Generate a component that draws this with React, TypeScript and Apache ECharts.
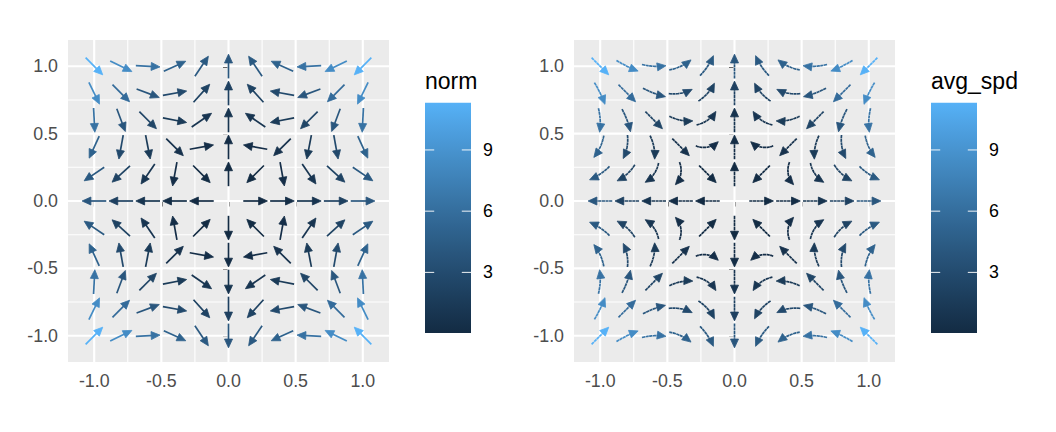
import React, { useEffect, useRef } from "react";
import * as echarts from "echarts";

// grid positions (columns = x, rows = y from top to bottom)
const xs = [-1, -0.8, -0.6, -0.4, -0.2, 0, 0.2, 0.4, 0.6, 0.8, 1];
const ys = [1, 0.8, 0.6, 0.4, 0.2, 0, -0.2, -0.4, -0.6, -0.8, -1];

// x component of the vector at each grid point
const uRows = [
  [8, 7.552, 6.336, 4.544, 2.368, 0, -2.368, -4.544, -6.336, -7.552, -8],
  [3.68, 4.096, 3.744, 2.816, 1.504, 0, -1.504, -2.816, -3.744, -4.096, -3.68],
  [0.32, 1.408, 1.728, 1.472, 0.832, 0, -0.832, -1.472, -1.728, -1.408, -0.32],
  [-2.08, -0.512, 0.288, 0.512, 0.352, 0, -0.352, -0.512, -0.288, 0.512, 2.08],
  [-3.52, -1.664, -0.576, -0.064, 0.064, 0, -0.064, 0.064, 0.576, 1.664, 3.52],
  [-4, -2.048, -0.864, -0.256, -0.032, 0, 0.032, 0.256, 0.864, 2.048, 4],
  [-3.52, -1.664, -0.576, -0.064, 0.064, 0, -0.064, 0.064, 0.576, 1.664, 3.52],
  [-2.08, -0.512, 0.288, 0.512, 0.352, 0, -0.352, -0.512, -0.288, 0.512, 2.08],
  [0.32, 1.408, 1.728, 1.472, 0.832, 0, -0.832, -1.472, -1.728, -1.408, -0.32],
  [3.68, 4.096, 3.744, 2.816, 1.504, 0, -1.504, -2.816, -3.744, -4.096, -3.68],
  [8, 7.552, 6.336, 4.544, 2.368, 0, -2.368, -4.544, -6.336, -7.552, -8],
];

// y component of the vector at each grid point
const vRows = [
  [-8, -3.68, -0.32, 2.08, 3.52, 4, 3.52, 2.08, -0.32, -3.68, -8],
  [-7.552, -4.096, -1.408, 0.512, 1.664, 2.048, 1.664, 0.512, -1.408, -4.096, -7.552],
  [-6.336, -3.744, -1.728, -0.288, 0.576, 0.864, 0.576, -0.288, -1.728, -3.744, -6.336],
  [-4.544, -2.816, -1.472, -0.512, 0.064, 0.256, 0.064, -0.512, -1.472, -2.816, -4.544],
  [-2.368, -1.504, -0.832, -0.352, -0.064, 0.032, -0.064, -0.352, -0.832, -1.504, -2.368],
  [0, 0, 0, 0, 0, 0, 0, 0, 0, 0, 0],
  [2.368, 1.504, 0.832, 0.352, 0.064, -0.032, 0.064, 0.352, 0.832, 1.504, 2.368],
  [4.544, 2.816, 1.472, 0.512, -0.064, -0.256, -0.064, 0.512, 1.472, 2.816, 4.544],
  [6.336, 3.744, 1.728, 0.288, -0.576, -0.864, -0.576, 0.288, 1.728, 3.744, 6.336],
  [7.552, 4.096, 1.408, -0.512, -1.664, -2.048, -1.664, -0.512, 1.408, 4.096, 7.552],
  [8, 3.68, 0.32, -2.08, -3.52, -4, -3.52, -2.08, 0.32, 3.68, 8],
];

// total turning (degrees, counter-clockwise positive) of each streamline
const bendRows = [
  [0, 10.3, 22.0, 28.7, 21.5, 0, -21.5, -28.7, -22.0, -10.3, 0],
  [-10.3, 0, 16.6, 33.2, 31.2, 0, -31.2, -33.2, -16.6, 0, 10.3],
  [-22.0, -16.6, 0, 30.5, 47.0, 0, -47.0, -30.5, 0, 16.6, 22.0],
  [-28.7, -33.2, -30.5, 0, 66.4, 0, -66.4, 0, 30.5, 33.2, 28.7],
  [-21.5, -31.2, -47.0, -66.4, 0, 0, 0, 66.4, 47.0, 31.2, 21.5],
  [0, 0, 0, 0, 0, 0, 0, 0, 0, 0, 0],
  [21.5, 31.2, 47.0, 66.4, 0, 0, 0, -66.4, -47.0, -31.2, -21.5],
  [28.7, 33.2, 30.5, 0, -66.4, 0, 66.4, 0, -30.5, -33.2, -28.7],
  [22.0, 16.6, 0, -30.5, -47.0, 0, 47.0, 30.5, 0, -16.6, -22.0],
  [10.3, 0, -16.6, -33.2, -31.2, 0, 31.2, 33.2, 16.6, 0, -10.3],
  [0, -10.3, -22.0, -28.7, -21.5, 0, 21.5, 28.7, 22.0, 10.3, 0],
];

const axisTicks = [-1, -0.5, 0, 0.5, 1];
const majorBreaks = [-1, -0.5, 0, 0.5, 1];
const minorBreaks = [-0.75, -0.25, 0.25, 0.75];
const legendBreaks = [3, 6, 9];
const legendTitles = ["norm", "avg_spd"];

// ---------- styling helpers ----------
const FONT = "'Liberation Sans', Arial, Helvetica, sans-serif";
const LOW = [0x13, 0x2b, 0x43];
const HIGH = [0x56, 0xb1, 0xf7];
const SEG = 0.18; // arrow / stream length in data units
const HEAD_LEN = 8.8;
const HEAD_HALF = 4.0;

function toLin(c: number) {
  c /= 255;
  return c <= 0.04045 ? c / 12.92 : Math.pow((c + 0.055) / 1.055, 2.4);
}
function fromLin(c: number) {
  const v = c <= 0.0031308 ? 12.92 * c : 1.055 * Math.pow(c, 1 / 2.4) - 0.055;
  return Math.round(Math.max(0, Math.min(1, v)) * 255);
}
function rgb2lab(rgb: number[]) {
  const R = toLin(rgb[0]), G = toLin(rgb[1]), B = toLin(rgb[2]);
  const X = (0.4124 * R + 0.3576 * G + 0.1805 * B) / 0.95047;
  const Y = 0.2126 * R + 0.7152 * G + 0.0722 * B;
  const Z = (0.0193 * R + 0.1192 * G + 0.9505 * B) / 1.08883;
  const f = (t: number) => (t > 0.008856 ? Math.cbrt(t) : 7.787 * t + 16 / 116);
  const fx = f(X), fy = f(Y), fz = f(Z);
  return [116 * fy - 16, 500 * (fx - fy), 200 * (fy - fz)];
}
function lab2rgb(lab: number[]) {
  const fy = (lab[0] + 16) / 116;
  const fx = fy + lab[1] / 500;
  const fz = fy - lab[2] / 200;
  const inv = (t: number) => (t * t * t > 0.008856 ? t * t * t : (t - 16 / 116) / 7.787);
  const X = inv(fx) * 0.95047, Y = inv(fy), Z = inv(fz) * 1.08883;
  const R = 3.2406 * X - 1.5372 * Y - 0.4986 * Z;
  const G = -0.9689 * X + 1.8758 * Y + 0.0415 * Z;
  const B = 0.0557 * X - 0.204 * Y + 1.057 * Z;
  return `rgb(${fromLin(R)},${fromLin(G)},${fromLin(B)})`;
}
const labLow = rgb2lab(LOW);
const labHigh = rgb2lab(HIGH);
const ramp: string[] = [];
for (let i = 0; i <= 20; i++) {
  const t = i / 20;
  ramp.push(lab2rgb([0, 1, 2].map((k) => labLow[k] + (labHigh[k] - labLow[k]) * t)));
}

// ---------- data table built from the arrays ----------
const points: number[][] = [];
ys.forEach((y, r) =>
  xs.forEach((x, c) => {
    const u = uRows[r][c];
    const v = vRows[r][c];
    const norm = Math.hypot(u, v);
    if (norm === 0) return;
    points.push([x, y, u, v, norm, bendRows[r][c]]);
  })
);
const normMin = Math.min(...points.map((p) => p[4]));
const normMax = Math.max(...points.map((p) => p[4]));

const gridLines: number[][] = [];
majorBreaks.forEach((b) => { gridLines.push([b, 0, 1]); gridLines.push([b, 1, 1]); });
minorBreaks.forEach((b) => { gridLines.push([b, 0, 0]); gridLines.push([b, 1, 0]); });

function headPolygon(tip: number[], dir: number[]) {
  const bx = tip[0] - dir[0] * HEAD_LEN;
  const by = tip[1] - dir[1] * HEAD_LEN;
  const px = -dir[1], py = dir[0];
  return [
    [tip[0], tip[1]],
    [bx + px * HEAD_HALF, by + py * HEAD_HALF],
    [bx - px * HEAD_HALF, by - py * HEAD_HALF],
  ];
}

function renderGridLines(params: any, api: any) {
  const cs = params.coordSys;
  const val = api.value(0);
  const orient = api.value(1);
  const major = api.value(2) === 1;
  const style = { stroke: "#FFFFFF", lineWidth: major ? 2.1 : 1.1 };
  if (orient === 0) {
    const px = api.coord([val, 0])[0];
    return { type: "line", shape: { x1: px, y1: cs.y, x2: px, y2: cs.y + cs.height }, style };
  }
  const py = api.coord([0, val])[1];
  return { type: "line", shape: { x1: cs.x, y1: py, x2: cs.x + cs.width, y2: py }, style };
}

function renderArrow(params: any, api: any) {
  const x = api.value(0), y = api.value(1), u = api.value(2), v = api.value(3);
  const n = Math.hypot(u, v);
  const dx = u / n, dy = v / n;
  const p0 = api.coord([x - (SEG / 2) * dx, y - (SEG / 2) * dy]);
  const p1 = api.coord([x + (SEG / 2) * dx, y + (SEG / 2) * dy]);
  const len = Math.hypot(p1[0] - p0[0], p1[1] - p0[1]);
  const dir = [(p1[0] - p0[0]) / len, (p1[1] - p0[1]) / len];
  const color = api.visual("color");
  const end = [p1[0] - dir[0] * HEAD_LEN * 0.6, p1[1] - dir[1] * HEAD_LEN * 0.6];
  return {
    type: "group",
    children: [
      { type: "line", shape: { x1: p0[0], y1: p0[1], x2: end[0], y2: end[1] }, style: { stroke: color, lineWidth: 1.7 } },
      { type: "polygon", shape: { points: headPolygon(p1, dir) }, style: { fill: color, stroke: color, lineWidth: 0.8, lineJoin: "miter" } },
    ],
  };
}

function renderStream(params: any, api: any) {
  const x = api.value(0), y = api.value(1), u = api.value(2), v = api.value(3);
  const bend = api.value(5);
  const th0 = Math.atan2(v, u);
  const k = ((bend * Math.PI) / 180) / SEG;
  const pxPerUnit = api.size([1, 0])[0];
  const trim = (HEAD_LEN * 0.6) / pxPerUnit;
  const at = (s: number) => {
    if (Math.abs(k) < 1e-6) return [x + s * Math.cos(th0), y + s * Math.sin(th0)];
    const th = th0 + k * s;
    return [x + (Math.sin(th) - Math.sin(th0)) / k, y - (Math.cos(th) - Math.cos(th0)) / k];
  };
  const N = 16;
  const pts: number[][] = [];
  const s0 = -SEG / 2, s1 = SEG / 2 - trim;
  for (let i = 0; i <= N; i++) pts.push(api.coord(at(s0 + ((s1 - s0) * i) / N)));
  const tip = api.coord(at(SEG / 2));
  const before = api.coord(at(SEG / 2 - 0.01));
  const dl = Math.hypot(tip[0] - before[0], tip[1] - before[1]);
  const dir = [(tip[0] - before[0]) / dl, (tip[1] - before[1]) / dl];
  const color = api.visual("color");
  return {
    type: "group",
    children: [
      { type: "polyline", shape: { points: pts }, style: { stroke: color, lineWidth: 1.7, fill: "none", lineDash: [3.2, 0.45] } },
      { type: "polygon", shape: { points: headPolygon(tip, dir) }, style: { fill: color, stroke: color, lineWidth: 0.8, lineJoin: "miter" } },
    ],
  };
}

const PANEL_LEFT = [68, 574];
const PANEL_TOP = 40;
const PANEL_W = 321;
const PANEL_H = 322;
const LIM = 1.195;

const LEG_X = [425, 931];
const LEG_TOP = 102.7;
const LEG_H = 230.3;
const LEG_W = 46;

function legendGraphics() {
  const out: any[] = [];
  const stops = ramp.map((c, i) => ({ offset: i / (ramp.length - 1), color: c }));
  LEG_X.forEach((x0, i) => {
    out.push({
      type: "text",
      left: x0,
      top: 81.3 - 12,
      style: { text: legendTitles[i], fontSize: 23, fontFamily: FONT, fill: "#000000", verticalAlign: "top" },
    });
    out.push({
      type: "rect",
      shape: { x: x0, y: LEG_TOP, width: LEG_W, height: LEG_H },
      style: { fill: new echarts.graphic.LinearGradient(0, 1, 0, 0, stops) },
    });
    legendBreaks.forEach((b) => {
      const yy = LEG_TOP + LEG_H - ((b - normMin) / (normMax - normMin)) * LEG_H;
      out.push({ type: "line", shape: { x1: x0, y1: yy, x2: x0 + LEG_W / 5, y2: yy }, style: { stroke: "#FFFFFF", lineWidth: 1.1, opacity: 0.85 } });
      out.push({ type: "line", shape: { x1: x0 + LEG_W - LEG_W / 5, y1: yy, x2: x0 + LEG_W, y2: yy }, style: { stroke: "#FFFFFF", lineWidth: 1.1, opacity: 0.85 } });
      out.push({
        type: "text",
        x: x0 + LEG_W + 12,
        y: yy,
        style: { text: String(b), fontSize: 17.8, fontFamily: FONT, fill: "#000000", verticalAlign: "middle", align: "left" },
      });
    });
  });
  return out;
}

export default function App() {
  const ref = useRef<HTMLDivElement>(null);
  useEffect(() => {
    document.body.style.margin = "0";
    if (!ref.current) return;
    const chart = echarts.init(ref.current, undefined, { renderer: "svg" });
    const axisCommon = (i: number) => ({
      gridIndex: i,
      type: "value" as const,
      min: -LIM,
      max: LIM,
      splitLine: { show: false },
      axisLine: { show: false },
      axisTick: { show: true, customValues: axisTicks, length: 5.5, lineStyle: { color: "#333333", width: 2 } },
      axisLabel: {
        customValues: axisTicks,
        formatter: (v: number) => v.toFixed(1),
        color: "#4D4D4D",
        fontSize: 17.8,
        fontFamily: FONT,
        margin: 10,
        lineHeight: 18,
      },
    });
    chart.setOption({
      animation: false,
      backgroundColor: "#FFFFFF",
      grid: PANEL_LEFT.map((l) => ({
        left: l,
        top: PANEL_TOP,
        width: PANEL_W,
        height: PANEL_H,
        show: true,
        backgroundColor: "#EBEBEB",
        borderWidth: 0,
      })),
      xAxis: [0, 1].map((i) => axisCommon(i)),
      yAxis: [0, 1].map((i) => axisCommon(i)),
      visualMap: [
        {
          type: "continuous",
          show: false,
          seriesIndex: [2, 3],
          dimension: 4,
          min: normMin,
          max: normMax,
          inRange: { color: ramp },
        },
      ],
      graphic: legendGraphics(),
      series: [
        { type: "custom", xAxisIndex: 0, yAxisIndex: 0, z: 1, silent: true, data: gridLines, renderItem: renderGridLines, encode: { x: 0, y: 1 } },
        { type: "custom", xAxisIndex: 1, yAxisIndex: 1, z: 1, silent: true, data: gridLines, renderItem: renderGridLines, encode: { x: 0, y: 1 } },
        { type: "custom", name: "norm", xAxisIndex: 0, yAxisIndex: 0, z: 3, data: points, renderItem: renderArrow, encode: { x: 0, y: 1 } },
        { type: "custom", name: "avg_spd", xAxisIndex: 1, yAxisIndex: 1, z: 3, data: points, renderItem: renderStream, encode: { x: 0, y: 1 } },
      ],
    });
    return () => chart.dispose();
  }, []);
  return <div ref={ref} style={{ width: 1056, height: 432 }} />;
}
